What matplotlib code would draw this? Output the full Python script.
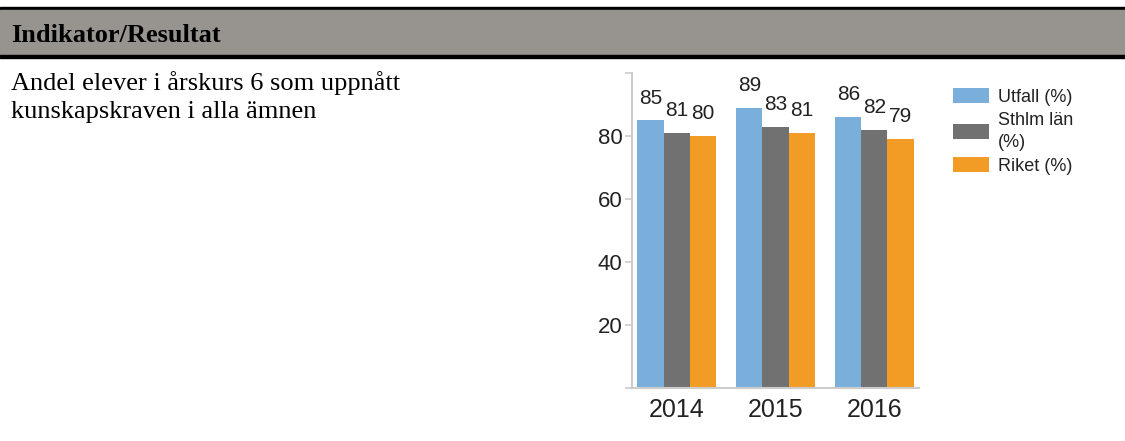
import numpy as np
import matplotlib.pyplot as plt
from matplotlib.patches import Rectangle

years = ['2014', '2015', '2016']
utfall = [85, 89, 86]
sthlm = [81, 83, 82]
riket = [80, 81, 79]

series = [
    ('Utfall (%)', utfall, '#7aafdc'),
    ('Sthlm län\n(%)', sthlm, '#717171'),
    ('Riket (%)', riket, '#f39c25'),
]

W, H = 1125, 441
fig = plt.figure(figsize=(W / 100, H / 100), dpi=100)

# header band
fig.patches.append(Rectangle((0, 1 - 10 / H), 1, 2.5 / H, transform=fig.transFigure,
                             color='black', zorder=1))
fig.patches.append(Rectangle((0, 1 - 55.5 / H), 1, 45.5 / H, transform=fig.transFigure,
                             color='#97938f', zorder=1))
fig.patches.append(Rectangle((0, 1 - 58 / H), 1, 2.5 / H, transform=fig.transFigure,
                             color='black', zorder=1))
fig.text(11 / W, 1 - 42 / H, 'Indikator/Resultat', family='Liberation Serif',
         weight='bold', fontsize=19, va='baseline', ha='left')
fig.text(11 / W, 1 - 90 / H, 'Andel elever i årskurs 6 som uppnått',
         family='Liberation Serif', fontsize=19, va='baseline', ha='left')
fig.text(11 / W, 1 - 118 / H, 'kunskapskraven i alla ämnen',
         family='Liberation Serif', fontsize=19, va='baseline', ha='left')

ax = fig.add_axes([632 / W, 53 / H, 287 / W, 315 / H])
x = np.arange(len(years))
width = 0.263
for i, (label, vals, color) in enumerate(series):
    pos = x + (i - 1) * width
    bars = ax.bar(pos, vals, width, color=color, label=label, zorder=2)
    for b, v in zip(bars, vals):
        ax.annotate(str(v), (b.get_x() + b.get_width() / 2, v), xytext=(0, 12),
                    textcoords='offset points', ha='center', va='baseline',
                    fontsize=15, color='#222222', family='Liberation Sans')

ax.set_xlim(-0.45, 2.45)
ax.set_ylim(0, 100)
ax.set_yticks([0, 20, 40, 60, 80, 100])
ax.set_yticklabels(['', '20', '40', '60', '80', ''])
ax.set_xticks(x)
ax.set_xticklabels(years)
for s in ['top', 'right']:
    ax.spines[s].set_visible(False)
for s in ['left', 'bottom']:
    ax.spines[s].set_color('#cccccc')
    ax.spines[s].set_linewidth(1.5)
ax.tick_params(axis='y', length=5, width=1.2, color='#cccccc', pad=2,
               labelsize=16, labelcolor='#222222')
ax.tick_params(axis='x', length=0, pad=7, labelsize=18, labelcolor='#222222')
for t in ax.get_xticklabels() + ax.get_yticklabels():
    t.set_family('Liberation Sans')

leg = fig.legend(loc='upper left', bbox_to_anchor=(944 / W, 1 - 79 / H), frameon=False,
                 prop={'family': 'Liberation Sans', 'size': 13}, handlelength=2.0,
                 handleheight=0.9, handletextpad=0.5, labelspacing=0.35, borderpad=0)
for t in leg.get_texts():
    t.set_linespacing(1.35)
    t.set_color('#222222')

fig.savefig('out.png', dpi=100)
